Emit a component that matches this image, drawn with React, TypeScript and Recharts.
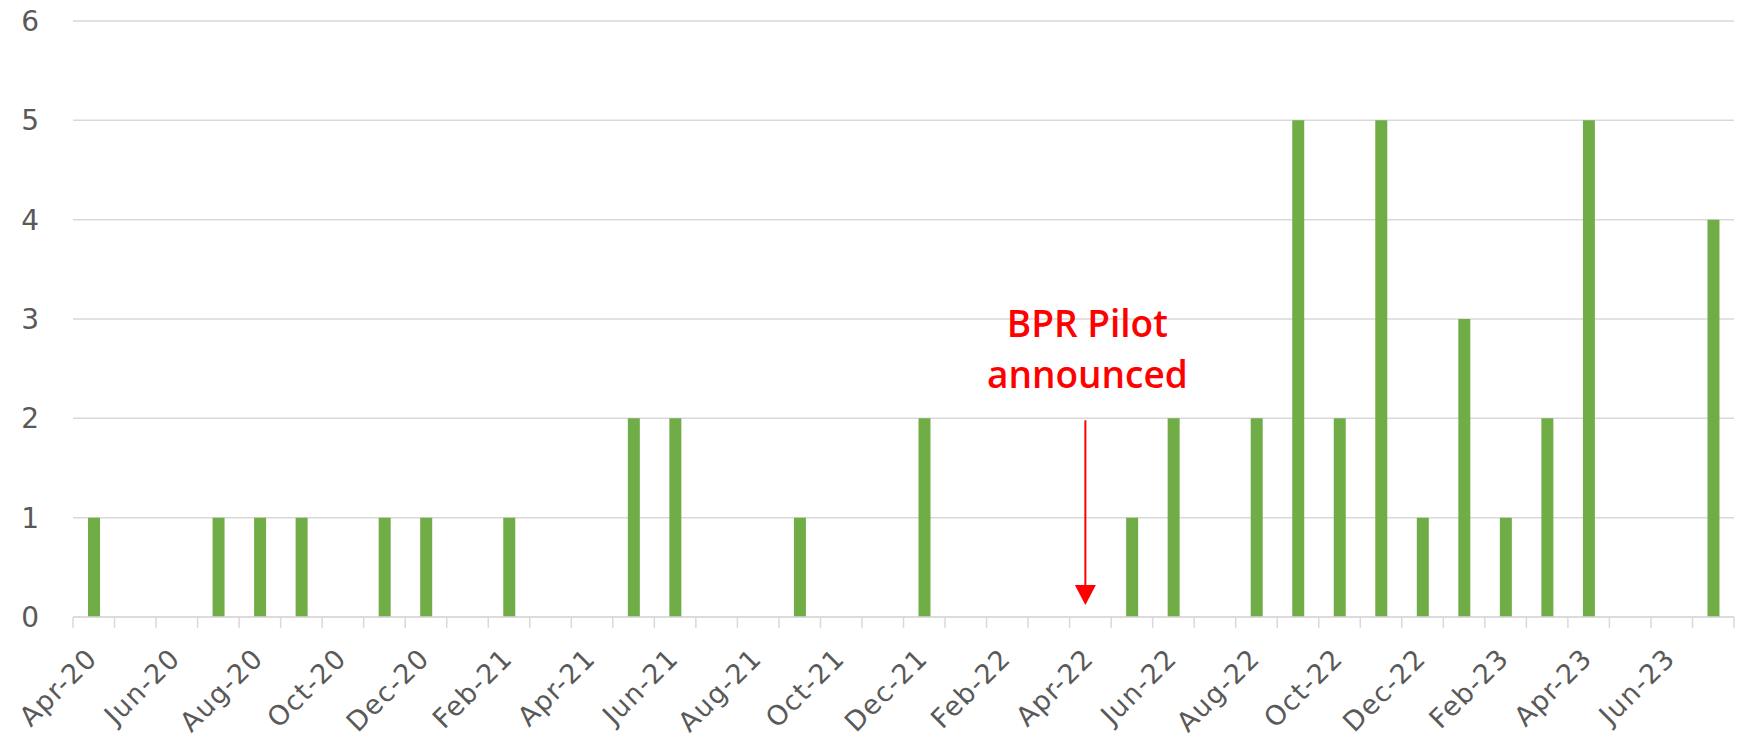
import {
  Bar,
  BarChart,
  CartesianGrid,
  ReferenceLine,
  XAxis,
  YAxis,
} from "recharts";

const months = [
  "Apr-20", "May-20", "Jun-20", "Jul-20", "Aug-20", "Sep-20", "Oct-20", "Nov-20",
  "Dec-20", "Jan-21", "Feb-21", "Mar-21", "Apr-21", "May-21", "Jun-21", "Jul-21",
  "Aug-21", "Sep-21", "Oct-21", "Nov-21", "Dec-21", "Jan-22", "Feb-22", "Mar-22",
  "Apr-22", "May-22", "Jun-22", "Jul-22", "Aug-22", "Sep-22", "Oct-22", "Nov-22",
  "Dec-22", "Jan-23", "Feb-23", "Mar-23", "Apr-23", "May-23", "Jun-23", "Jul-23",
];

const counts = [
  1, 0, 0, 1, 1, 1, 0, 1,
  1, 0, 1, 0, 0, 2, 2, 0,
  0, 1, 0, 0, 2, 0, 0, 0,
  0, 1, 2, 0, 2, 5, 2, 5,
  1, 3, 1, 2, 5, 0, 0, 4,
];

const yTicks = [0, 1, 2, 3, 4, 5, 6];

const annotationMonth = "Apr-22";
const annotationLines = ["BPR Pilot", "announced"];

const data = months.map((m, i) => ({ month: m, count: counts[i] }));

const AXIS_GREY = "#595959";
const GRID = "#d9d9d9";

function MonthTick(props: any) {
  const { x, y, payload, index } = props;
  const half = payload?.offset ?? 20.75;
  const lx = x + 5;
  const ly = y + 43;
  return (
    <g>
      <line x1={x - half} y1={y} x2={x - half} y2={y + 11} stroke={GRID} strokeWidth={1.5} />
      {index === months.length - 1 && (
        <line x1={x + half} y1={y} x2={x + half} y2={y + 11} stroke={GRID} strokeWidth={1.5} />
      )}
      {index % 2 === 0 && (
        <text
          x={lx}
          y={ly}
          textAnchor="end"
          transform={`rotate(-45, ${lx}, ${ly})`}
          fill={AXIS_GREY}
          fontSize={27}
          letterSpacing={1.2}
          fontFamily="DejaVu Sans"
        >
          {payload.value}
        </text>
      )}
    </g>
  );
}

function PilotArrow(props: any) {
  const { x1, y1, y2 } = props;
  const x = x1 - 5;
  return (
    <g>
      <text
        x={x + 2}
        textAnchor="middle"
        fill="#ff0000"
        fontSize={37}
        fontWeight={600}
        fontFamily="Open Sans"
      >
        <tspan x={x + 2} y={y1 - 83}>{annotationLines[0]}</tspan>
        <tspan x={x + 2} y={y1 - 32}>{annotationLines[1]}</tspan>
      </text>
      <line x1={x} y1={y1} x2={x} y2={y2 - 18} stroke="#ff0000" strokeWidth={2} />
      <polygon
        points={`${x - 10.5},${y2 - 20} ${x + 10.5},${y2 - 20} ${x},${y2}`}
        fill="#ff0000"
      />
    </g>
  );
}

export default function App() {
  return (
    <div style={{ position: "absolute", left: 0, top: 0, background: "#fff" }}>
      <BarChart
        width={1740}
        height={741}
        data={data}
        margin={{ top: 21, right: 6, left: 0, bottom: 0 }}
      >
        <CartesianGrid vertical={false} stroke={GRID} strokeWidth={1.5} />
        <XAxis
          dataKey="month"
          interval={0}
          height={124}
          tickLine={false}
          tickSize={0}
          tickMargin={0}
          axisLine={{ stroke: GRID, strokeWidth: 1.5 }}
          tick={<MonthTick />}
        />
        <YAxis
          width={73}
          domain={[0, 6]}
          ticks={yTicks}
          axisLine={false}
          tickLine={false}
          tickSize={0}
          tickMargin={34}
          tick={{ fill: AXIS_GREY, fontSize: 28, fontFamily: "DejaVu Sans" }}
        />
        <Bar dataKey="count" fill="#70AD47" barSize={12} isAnimationActive={false} />
        <ReferenceLine
          segment={[
            { x: annotationMonth, y: 1.98 },
            { x: annotationMonth, y: 0.12 },
          ]}
          shape={<PilotArrow />}
        />
      </BarChart>
    </div>
  );
}
